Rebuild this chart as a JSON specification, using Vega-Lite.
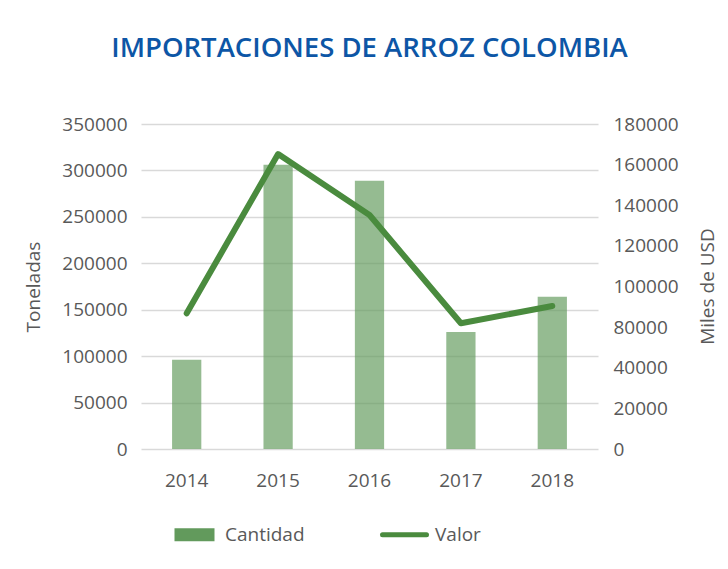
{
  "$schema": "https://vega.github.io/schema/vega-lite/v6.json",
  "width": 457,
  "height": 325,
  "autosize": {"type": "none"},
  "padding": {"left": 141, "top": 124, "right": 130, "bottom": 120},
  "background": "white",
  "title": {
    "text": "IMPORTACIONES DE ARROZ COLOMBIA",
    "font": "Open Sans",
    "fontSize": 27.5,
    "fontWeight": 600,
    "color": "#0D56A6",
    "anchor": "middle",
    "offset": 53
  },
  "config": {
    "view": {"stroke": null},
    "axis": {
      "labelFont": "Open Sans",
      "labelFontSize": 19,
      "labelColor": "#595959",
      "titleFont": "Open Sans",
      "titleFontSize": 19,
      "titleFontWeight": "normal",
      "titleColor": "#595959",
      "domain": false,
      "ticks": false,
      "gridColor": "#D9D9D9",
      "gridWidth": 1.5
    },
    "legend": {
      "labelFont": "Open Sans",
      "labelFontSize": 19,
      "labelColor": "#595959"
    }
  },
  "data": {
    "values": [
      {"anio": "2014", "serie": "Cantidad", "valor": 96000},
      {"anio": "2015", "serie": "Cantidad", "valor": 306000},
      {"anio": "2016", "serie": "Cantidad", "valor": 289000},
      {"anio": "2017", "serie": "Cantidad", "valor": 126000},
      {"anio": "2018", "serie": "Cantidad", "valor": 164000},
      {"anio": "2014", "serie": "Valor", "valor": 86800},
      {"anio": "2015", "serie": "Valor", "valor": 165200},
      {"anio": "2016", "serie": "Valor", "valor": 135200},
      {"anio": "2017", "serie": "Valor", "valor": 81900},
      {"anio": "2018", "serie": "Valor", "valor": 90400}
    ]
  },
  "encoding": {
    "x": {
      "field": "anio",
      "type": "nominal",
      "scale": {"type": "band", "paddingInner": 0.68, "paddingOuter": 0.34},
      "axis": {"title": null, "labelAngle": 0, "labelPadding": 22, "grid": false}
    }
  },
  "layer": [
    {
      "transform": [{"filter": "datum.serie === 'Cantidad'"}],
      "mark": {"type": "bar", "fillOpacity": 0.674},
      "encoding": {
        "y": {
          "field": "valor",
          "type": "quantitative",
          "scale": {"domain": [0, 350000], "nice": false},
          "axis": {
            "title": "Toneladas",
            "values": [0, 50000, 100000, 150000, 200000, 250000, 300000, 350000],
            "format": "d",
            "grid": true,
            "labelPadding": 14,
            "titlePadding": 18
          }
        },
        "color": {
          "field": "serie",
          "type": "nominal",
          "scale": {"domain": ["Cantidad", "Valor"], "range": ["#629A5C", "#4A8B3E"]},
          "legend": {
            "title": null,
            "orient": "none",
            "direction": "horizontal",
            "legendX": 44,
            "legendY": 401,
            "symbolSize": 1600,
            "labelOffset": 21,
            "columnPadding": 67,
            "encode": {
              "symbols": {
                "update": {
                  "shape": {"signal": "datum.label === 'Cantidad' ? 'M-1,-0.33H1V0.33H-1Z' : 'M-1.1,0H1.1'"},
                  "fillOpacity": {"value": 1},
                  "strokeWidth": {"signal": "datum.label === 'Cantidad' ? 0 : 5"},
                  "strokeCap": {"value": "round"},
                  "opacity": {"value": 1}
                }
              }
            }
          }
        }
      }
    },
    {
      "transform": [{"filter": "datum.serie === 'Valor'"}],
      "mark": {"type": "line", "strokeWidth": 6, "strokeCap": "round", "strokeJoin": "round"},
      "encoding": {
        "y": {
          "field": "valor",
          "type": "quantitative",
          "scale": {
            "domain": [0, 20000, 40000, 80000, 100000, 120000, 140000, 160000, 180000],
            "range": [
              {"expr": "height"},
              {"expr": "height * 7 / 8"},
              {"expr": "height * 6 / 8"},
              {"expr": "height * 5 / 8"},
              {"expr": "height * 4 / 8"},
              {"expr": "height * 3 / 8"},
              {"expr": "height * 2 / 8"},
              {"expr": "height * 1 / 8"},
              0
            ],
            "nice": false,
            "zero": false
          },
          "axis": {
            "orient": "right",
            "title": "Miles de USD",
            "titleAngle": 270,
            "titleX": 109,
            "titleY": 162,
            "titleBaseline": "middle",
            "titleAlign": "center",
            "values": [0, 20000, 40000, 80000, 100000, 120000, 140000, 160000, 180000],
            "format": "d",
            "grid": false,
            "labelPadding": 15
          }
        },
        "color": {
          "field": "serie",
          "type": "nominal",
          "legend": {
            "title": null,
            "orient": "none",
            "direction": "horizontal",
            "legendX": 44,
            "legendY": 401,
            "symbolSize": 1600,
            "labelOffset": 21,
            "columnPadding": 67,
            "encode": {
              "symbols": {
                "update": {
                  "shape": {"signal": "datum.label === 'Cantidad' ? 'M-1,-0.33H1V0.33H-1Z' : 'M-1.1,0H1.1'"},
                  "fillOpacity": {"value": 1},
                  "strokeWidth": {"signal": "datum.label === 'Cantidad' ? 0 : 5"},
                  "strokeCap": {"value": "round"},
                  "opacity": {"value": 1}
                }
              }
            }
          }
        }
      }
    }
  ],
  "resolve": {"scale": {"y": "independent"}}
}
